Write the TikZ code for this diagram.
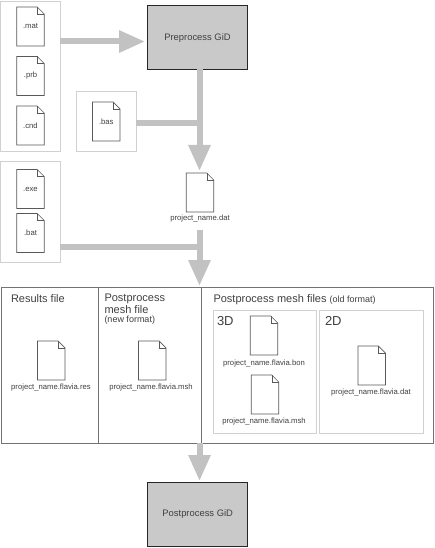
\documentclass[tikz,border=0pt]{standalone}
\usepackage{fontspec}
\setmainfont{Liberation Sans}
\usetikzlibrary{arrows.meta,calc}
\definecolor{ink}{gray}{0.25}
\definecolor{flow}{gray}{0.76}
\definecolor{frameline}{gray}{0.45}
\definecolor{lightframe}{gray}{0.82}
\definecolor{docline}{gray}{0.35}
\newcommand{\fs}[1]{\fontsize{#1}{#1}\selectfont}
\tikzset{
  x=1pt,y=-1pt,
  every node/.style={inner sep=0pt,outer sep=0pt,text=ink},
  group/.style={draw=lightframe,line width=0.7pt,fill=white,minimum width=#1},
  grouph/.style={minimum height=#1},
  toolbox/.style={draw=black!85,line width=1pt,fill=black!21,minimum width=99.5pt,minimum height=63.5pt,font=\fs{9.4}},
  panel/.style={draw=frameline,line width=0.8pt,fill=white},
  subpanel/.style={draw=lightframe,line width=0.9pt,fill=white,minimum width=103.5pt,minimum height=123pt},
  docbase/.style={minimum width=27.5pt,minimum height=39pt,font=\fs{7.7}},
  docline/.style={draw=docline,line width=0.7pt,fill=white,line join=miter},
  doclabel/.style={font=\fs{7.7}},
  head/.style={font=\fs{11},anchor=west},
  big/.style={font=\fs{13},anchor=west},
  small/.style={font=\fs{9},anchor=west},
  flowbar/.style={draw=flow,line width=6pt},
  flowarrow/.style={flowbar,-{Triangle[width=21pt,length=26pt,fill=flow]}}
}
% name, centre x, centre y, text
\newcommand{\docnode}[4]{%
  \node[docbase] (#1) at (#2,#3) {};
  \draw[docline] (#1.north west) -- ($(#1.north east)+(-7,0)$) -- ($(#1.north east)+(0,7)$) -- (#1.south east) -- (#1.south west) -- cycle;
  \draw[docline,fill=none,line width=0.5pt] ($(#1.north east)+(-7,0)$) -- ($(#1.north east)+(-7,7)$) -- ($(#1.north east)+(0,7)$);
  \node[docbase] at (#2,#3) {#4};
}
\begin{document}
\begin{tikzpicture}
\useasboundingbox (0,0) rectangle (434,548);
\fill[white] (0,0) rectangle (434,548);

% source groups
\node[group=60pt,grouph=150pt] (g1) at (30,76) {};
\node[group=60pt,grouph=60pt] (g2) at (106,121) {};
\node[group=60pt,grouph=101pt] (g3) at (30,211.5) {};

% tool boxes
\node[toolbox] (pre) at (197.5,37.7) {Preprocess GiD};
\node[toolbox] (post) at (197.7,514.5) {Postprocess GiD};

% free ends of connectors
\coordinate (a1) at (145,41.5);
\coordinate (j1) at (199.5,123);
\coordinate (a2) at (199.5,171);
\coordinate (s3) at (199.5,229.5);
\coordinate (j3) at (199.5,246.5);
\coordinate (a3) at (199.5,286);
\coordinate (a4) at (199.5,481);

% connectors
\draw[flowarrow] (g1.east |- a1) -- (a1);
\draw[flowarrow] (pre.south -| a2) -- (a2);
\draw[flowbar] (g2.east |- j1) -- (j1);
\draw[flowarrow] (s3) -- (a3);
\draw[flowbar] (g3.east |- j3) -- (j3);

% output panels
\node[panel,minimum width=97pt,minimum height=156.5pt] (pa) at (49.5,365.2) {};
\node[panel,minimum width=103.5pt,minimum height=156.5pt] (pb) at (149.75,365.2) {};
\node[panel,minimum width=231.5pt,minimum height=156.5pt] (pc) at (317.25,365.2) {};
\node[subpanel] (p3d) at (264.7,371.5) {};
\node[subpanel] (p2d) at (371.2,371.5) {};

\draw[flowarrow] (a3 |- pc.south) -- (a4);

% headings
\node[head] (h1) at (11,299) {Results file};
\node[head] (h2a) at (104.5,299) {Postprocess};
\node[head] (h2c) at (104.5,310) {mesh file};
\node[small] (h2d) at (104.5,320) {(new format)};
\node[head] (h3) at (213.5,299.5) {Postprocess mesh files \fs{9}(old format)};
\node[big] (h4) at (217,321) {3D};
\node[big] (h5) at (325,321) {2D};

% documents
\docnode{mat}{30.5}{26.5}{.mat}
\docnode{prb}{30.5}{76}{.prb}
\docnode{cnd}{30.5}{125.5}{.cnd}
\docnode{bas}{106.3}{121.5}{.bas}
\docnode{exe}{30.5}{189}{.exe}
\docnode{bat}{30.5}{233}{.bat}
\docnode{dat}{200}{192.5}{}
\node[doclabel] (datl) at (200,219) {project\_name.dat};
\docnode{res}{51.3}{360.5}{}
\node[doclabel] (resl) at (51,388) {project\_name.flavia.res};
\docnode{msh}{152.3}{360.5}{}
\node[doclabel] (mshl) at (151,388) {project\_name.flavia.msh};
\docnode{bon}{264}{335.5}{}
\node[doclabel] (bonl) at (264,364) {project\_name.flavia.bon};
\docnode{msh3}{265}{394.5}{}
\node[doclabel] (msh3l) at (264,422) {project\_name.flavia.msh};
\docnode{dat2}{371.7}{365.5}{}
\node[doclabel] (dat2l) at (371,392.5) {project\_name.flavia.dat};
\end{tikzpicture}
\end{document}
